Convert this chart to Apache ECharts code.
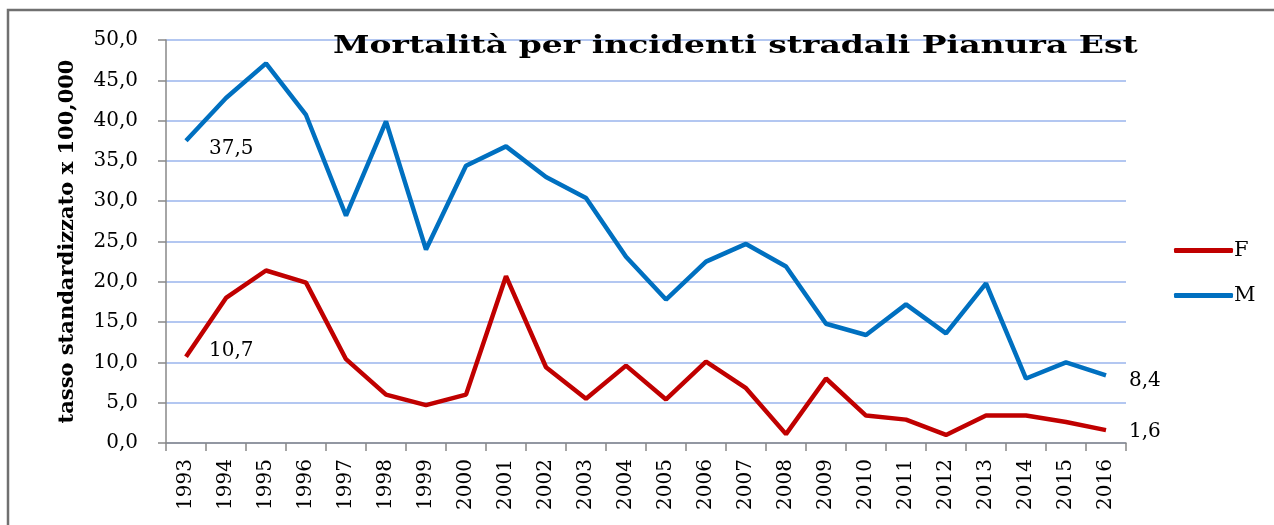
<!DOCTYPE html>
<html lang="it">
<head>
  <meta charset="UTF-8">
  <title>Mortalità per incidenti stradali Pianura Est</title>
  <style>
    * { margin: 0; padding: 0; }
    body { background: #fff; overflow: hidden; }
    #chart { width: 1274px; height: 525px; }
  </style>
</head>
<body>
  <div id="chart"></div>
  <script src="https://cdn.jsdelivr.net/npm/echarts@6/dist/echarts.min.js"></script>
  <script>
    const years = ['1993', '1994', '1995', '1996', '1997', '1998', '1999', '2000',
      '2001', '2002', '2003', '2004', '2005', '2006', '2007', '2008',
      '2009', '2010', '2011', '2012', '2013', '2014', '2015', '2016'];
    const femmine = [10.7, 18.0, 21.4, 19.9, 10.4, 6.0, 4.7, 6.0,
      20.7, 9.4, 5.5, 9.6, 5.4, 10.1, 6.8, 1.1,
      8.0, 3.4, 2.9, 1.0, 3.4, 3.4, 2.6, 1.6];
    const maschi = [37.5, 42.8, 47.1, 40.7, 28.2, 39.9, 24.0, 34.4,
      36.8, 33.0, 30.4, 23.1, 17.8, 22.5, 24.7, 21.9,
      14.8, 13.4, 17.2, 13.6, 19.8, 8.0, 10.0, 8.4];

    const SERIF = 'DejaVu Serif';
    const fmt = v => v.toFixed(1).replace('.', ',');

    // etichette solo sul primo e sull'ultimo punto
    const withEnds = (arr, firstLabel, lastLabel) => arr.map((v, i) => {
      if (i === 0) return { value: v, label: firstLabel };
      if (i === arr.length - 1) return { value: v, label: lastLabel };
      return v;
    });

    const pointLabel = (dist, dy) => ({
      show: true,
      position: 'right',
      distance: dist,
      offset: [0, dy],
      formatter: p => fmt(p.value),
      fontFamily: SERIF,
      fontSize: 20,
      color: '#000'
    });

    const chart = echarts.init(document.getElementById('chart'));
    chart.setOption({
      animation: false,
      backgroundColor: '#fff',
      graphic: [{
        type: 'rect',
        z: -1,
        shape: { x: 8, y: 10, width: 1400, height: 700 },
        style: { fill: 'none', stroke: '#707070', lineWidth: 2.5 }
      }, {
        type: 'text',
        z: 10,
        x: 333,
        y: 47,
        scaleX: 1.375,
        style: {
          text: 'Mortalità per incidenti stradali Pianura Est',
          fontFamily: SERIF,
          fontWeight: 'bold',
          fontSize: 24,
          fill: '#000',
          verticalAlign: 'middle'
        }
      }],
      legend: {
        orient: 'vertical',
        left: 1169,
        top: 235,
        itemWidth: 59,
        itemHeight: 5,
        itemGap: 24,
        icon: 'roundRect',
        data: ['F', 'M'],
        textStyle: { fontFamily: SERIF, fontSize: 21, color: '#000', padding: [0, 0, 0, -4] }
      },
      grid: { left: 166, right: 148, top: 40, bottom: 82 },
      xAxis: {
        type: 'category',
        data: years,
        boundaryGap: true,
        axisLine: { lineStyle: { color: '#888', width: 1.5 } },
        axisTick: { show: true, length: 8, lineStyle: { color: '#888', width: 1.5 } },
        axisLabel: {
          interval: 0,
          rotate: 90,
          margin: 16,
          fontFamily: SERIF,
          fontSize: 20,
          color: '#000'
        }
      },
      yAxis: {
        type: 'value',
        min: 0,
        max: 50,
        interval: 5,
        name: 'tasso standardizzato x 100,000',
        nameLocation: 'middle',
        nameGap: 88,
        nameTextStyle: { fontFamily: SERIF, fontWeight: 'bold', fontSize: 21, color: '#000' },
        axisLine: { show: true, lineStyle: { color: '#888', width: 1.5 } },
        axisTick: { show: true, length: 8, lineStyle: { color: '#888', width: 1.5 } },
        axisLabel: {
          margin: 28,
          formatter: v => fmt(v),
          fontFamily: SERIF,
          fontSize: 20,
          color: '#000'
        },
        splitLine: { lineStyle: { color: '#b3c7f1', width: 2 } }
      },
      series: [
        {
          name: 'F',
          type: 'line',
          symbol: 'circle',
          symbolSize: 0,
          data: withEnds(femmine, pointLabel(23, -6), pointLabel(23, 2)),
          lineStyle: { color: '#c00000', width: 4.5 },
          itemStyle: { color: '#c00000' }
        },
        {
          name: 'M',
          type: 'line',
          symbol: 'circle',
          symbolSize: 0,
          data: withEnds(maschi, pointLabel(23, 8), pointLabel(23, 6)),
          lineStyle: { color: '#0070c0', width: 4.5 },
          itemStyle: { color: '#0070c0' }
        }
      ]
    });
  </script>
</body>
</html>
